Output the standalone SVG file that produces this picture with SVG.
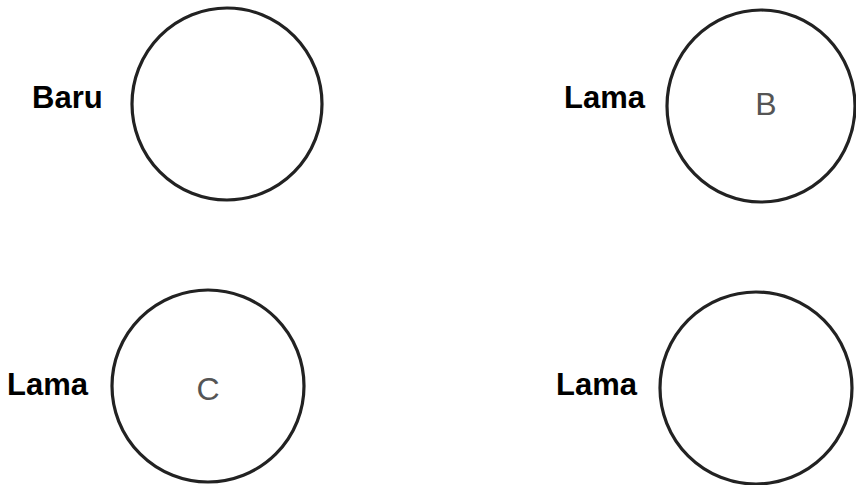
<svg xmlns="http://www.w3.org/2000/svg" width="856" height="485" viewBox="0 0 856 485">
<style>
.ring{fill:none;stroke:#222;stroke-width:3.2}
.lbl{font-family:"Liberation Sans",Arial,sans-serif;font-weight:bold;font-size:31px;fill:#000}
.in{font-family:"Liberation Sans",Arial,sans-serif;font-size:32px;fill:#555;text-anchor:middle}
</style>
<rect width="856" height="485" fill="#fff"/>
<g id="baru">
<ellipse class="ring" cx="227" cy="104" rx="95" ry="96"/>
<text class="lbl" x="32" y="108">Baru</text>
</g>
<g id="lamaB">
<ellipse class="ring" cx="761" cy="106" rx="94" ry="96"/>
<text class="lbl" x="564" y="108">Lama</text>
<text class="in" x="766" y="115">B</text>
</g>
<g id="lamaC">
<ellipse class="ring" cx="208" cy="386" rx="96" ry="96"/>
<text class="lbl" x="7" y="395">Lama</text>
<text class="in" x="208" y="400">C</text>
</g>
<g id="lama">
<ellipse class="ring" cx="756" cy="388" rx="96" ry="96"/>
<text class="lbl" x="556" y="395">Lama</text>
</g>
<g id="connectors"></g>
</svg>
